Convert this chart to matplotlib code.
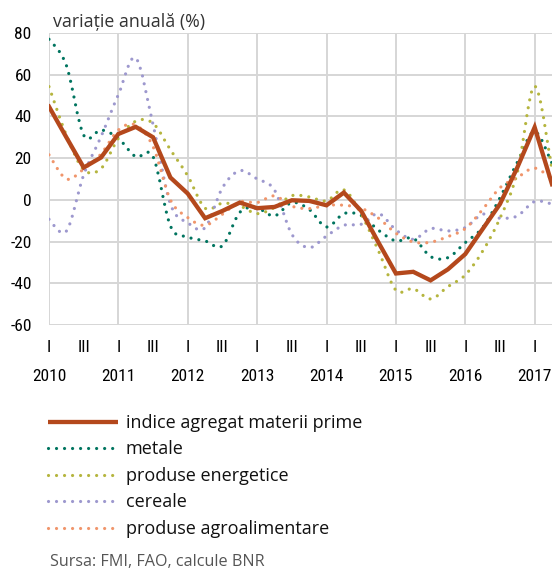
import numpy as np
import matplotlib
matplotlib.use("Agg")
import matplotlib.pyplot as plt
from matplotlib.path import Path
from matplotlib.patches import PathPatch
from matplotlib.lines import Line2D
from matplotlib import font_manager

plt.rcParams["axes.unicode_minus"] = False

# ---- data (quarterly, 2010 Q1 .. 2017 Q2), annual change in % ----
indice = [44.7, 30, 15.5, 20.3, 31.6, 35, 30, 10.7, 3, -8.8, -5.3, -1.3, -4, -3.4, -0.2,
          -0.5, -2.6, 3.5, -5.3, -20.5, -35.3, -34.5, -38.6, -33.3, -26, -14, -2, 15.5, 34.8, 7.5]
metale = [77, 64.5, 31, 33.5, 29.5, 20.7, 20.7, -12.5, -17.8, -19.7, -22, -6, -4, -7.7, -1.3,
          -4.6, -13, -6.6, -7.5, -14.6, -19.7, -18.4, -27.2, -27.7, -20.5, -13.3, 1, 18, 32.7, 17.5]
energetice = [54.3, 31, 14.5, 15, 29.5, 37.7, 36.7, 24, 11.5, -4, -1.6, -2.9, -6.6, -3.7, 2,
              1.4, -0.5, 4.8, -6.9, -24.5, -43.3, -42.6, -47.5, -41.6, -36, -24.6, -8.8, 13.1, 54.5, 14.5]
cereale = [-9.3, -15, 12, 30.3, 50.5, 68, 36, -2, -11, -13.3, 5.8, 14, 10, 4.7, -16.5,
           -22.9, -17.3, -12.2, -11.7, -6.6, -14.4, -18.9, -13.8, -14.9, -13.3, -6.9, -8.8, -7.7, -0.8, -2]
agro = [21.6, 10, 14.8, 22, 33.5, 35.9, 25.5, 0, -8.5, -12.2, -6.9, -1, -1.3, 1.9, -3,
        -4.2, -2.6, -2.6, -4, -8.8, -16, -20.2, -20.3, -17.6, -13.8, -4.6, 5.8, 10.7, 15.2, 10]

series_names = ["indice agregat materii prime", "metale", "produse energetice",
                "cereale", "produse agroalimentare"]
quarter_labels = ["I", "III"]
years = ["2010", "2011", "2012", "2013", "2014", "2015", "2016", "2017"]
y_ticks = [-60, -40, -20, 0, 20, 40, 60, 80]

colors = {"indice": "#B4481C", "metale": "#00745F", "energetice": "#B5B53E",
          "cereale": "#9D98CE", "agro": "#F0956B"}

x = np.arange(len(indice))

# pick a condensed font for the axis numbers if one is installed
available = {f.name for f in font_manager.fontManager.ttflist}
narrow = None
for cand in ["Liberation Sans Narrow", "DejaVu Sans Condensed", "Roboto Condensed",
             "Open Sans Condensed", "Noto Sans Condensed"]:
    if cand in available:
        narrow = cand
        break
if narrow is None:
    narrow = "DejaVu Sans"
tick_family = [narrow, "DejaVu Sans"]


def smooth_path(xs, ys):
    """Smoothed (Catmull-Rom style Bezier) path through the data points."""
    pts = np.column_stack([xs, ys]).astype(float)
    n = len(pts)
    verts = [pts[0]]
    codes = [Path.MOVETO]
    for i in range(n - 1):
        p0 = pts[max(i - 1, 0)]
        p1 = pts[i]
        p2 = pts[i + 1]
        p3 = pts[min(i + 2, n - 1)]
        c1 = p1 + (p2 - p0) / 6.0
        c2 = p2 - (p3 - p1) / 6.0
        verts += [c1, c2, p2]
        codes += [Path.CURVE4] * 3
    return Path(verts, codes)


fig = plt.figure(figsize=(5.54, 5.69), dpi=100)
ax = fig.add_axes([49 / 554, 1 - 325 / 569, 503 / 554, 292 / 569])

ax.set_xlim(0, len(indice) - 1)
ax.set_ylim(-60, 80)

grid_c = "#D6D6D6"
for s in ax.spines.values():
    s.set_visible(False)
ax.set_yticks(y_ticks)
ax.set_xticks(np.arange(0, len(indice), 2))
ax.set_xticklabels([quarter_labels[i % 2] for i in range(len(ax.get_xticks()))])
ax.grid(False)
for yv in y_ticks:
    ax.axhline(yv, color=grid_c, lw=1.4, zorder=0)
for k in range(len(years)):
    ax.axvline(4 * k, color=grid_c, lw=1.4, zorder=0)

stretch = "condensed"
ax.tick_params(axis="both", length=0, colors="#000000")
ax.tick_params(axis="y", pad=12.5)
ax.tick_params(axis="x", pad=10.5)
for lab in ax.get_yticklabels() + ax.get_xticklabels():
    lab.set_fontfamily(tick_family)
    lab.set_fontsize(12.5)
    lab.set_fontstretch(stretch)

for k, yr in enumerate(years):
    ax.text(4 * k, -0.175, yr, transform=ax.get_xaxis_transform(), ha="center", va="center",
            fontfamily=tick_family, fontsize=12.5, fontstretch=stretch)

dot = (0, (0.01, 2.5))
dotted = [("metale", metale), ("energetice", energetice), ("cereale", cereale), ("agro", agro)]
handles = [Line2D([], [], color=colors["indice"], lw=3.1, solid_capstyle="butt")]
for key, vals in dotted:
    patch = PathPatch(smooth_path(x, vals), fill=False, edgecolor=colors[key], lw=2.3,
                      linestyle=dot, capstyle="round", zorder=2)
    ax.add_patch(patch)
    handles.append(Line2D([], [], color=colors[key], lw=2.3, linestyle=dot,
                          dash_capstyle="round"))

ax.plot(x, indice, color=colors["indice"], lw=3.1, solid_joinstyle="miter", zorder=3)

fig.text(53 / 554, 1 - 22 / 569, "variație anuală (%)", fontfamily="Open Sans",
         fontsize=12.8, va="center", ha="left", color="#333333")

leg = fig.legend(handles, series_names, loc="upper left",
                 bbox_to_anchor=(48 / 554, 1 - 414 / 569), frameon=False,
                 prop=dict(family="Open Sans", size=13), handlelength=3.9,
                 handletextpad=0.42, labelspacing=0.47, borderpad=0, borderaxespad=0)
for t in leg.get_texts():
    t.set_color("#111111")

fig.text(50 / 554, 1 - 562 / 569, "Sursa: FMI, FAO, calcule BNR", fontfamily="Open Sans",
         fontsize=11.6, va="center", ha="left", color="#555555")

fig.savefig("out.png", dpi=100)
